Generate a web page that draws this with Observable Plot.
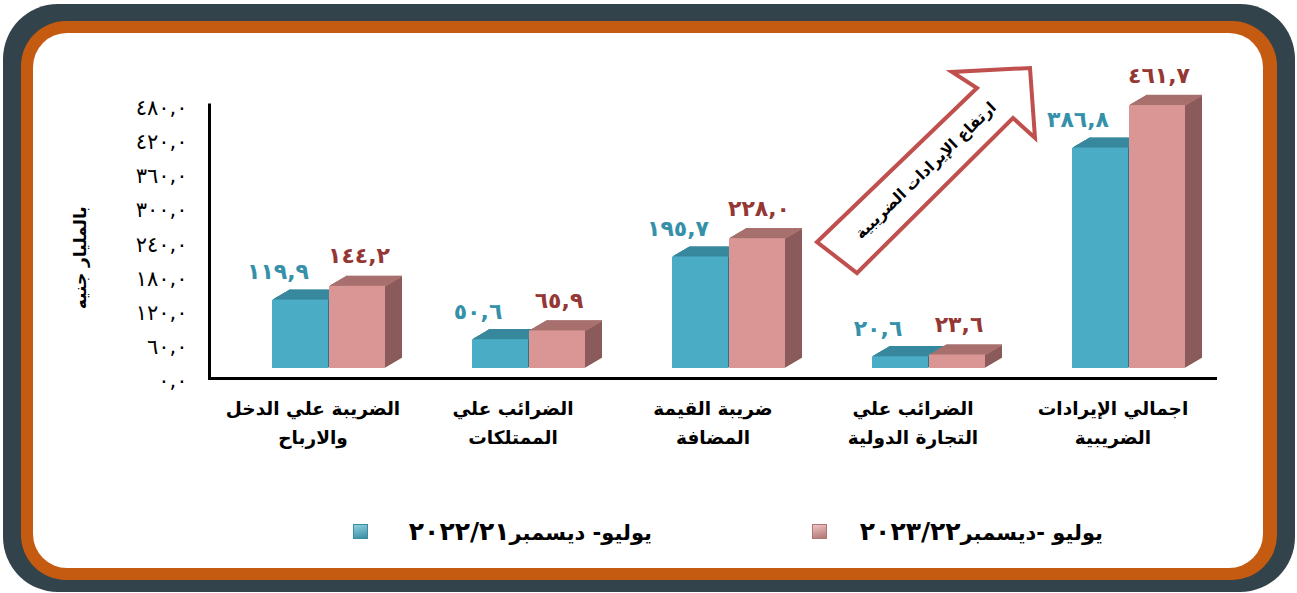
<!DOCTYPE html>
<html><head><meta charset="utf-8">
<script src="https://cdn.jsdelivr.net/npm/d3@7"></script>
<script src="https://cdn.jsdelivr.net/npm/@observablehq/plot@0.6"></script>
<style>
html,body{margin:0;padding:0;background:#fff;}
#wrap{position:relative;width:1297px;height:593px;overflow:hidden;font-family:"DejaVu Sans",sans-serif;}
.f1{position:absolute;left:3px;top:4px;width:1292px;height:588px;border-radius:55px;background:#33434b;}
.f2{position:absolute;left:21px;top:21px;width:1256px;height:559px;border-radius:45px;background:#c55a11;}
.f3{position:absolute;left:33px;top:33px;width:1230px;height:535px;border-radius:34px;background:#fff;}
#chart{position:absolute;left:0;top:0;}
#arrow{position:absolute;left:0;top:0;}
.leg{position:absolute;top:518px;height:28px;line-height:28px;font-weight:bold;font-size:21px;direction:rtl;white-space:nowrap;color:#000;}
.leg .num{font-size:25px;}
.mk{position:absolute;top:524px;width:15px;height:15px;box-sizing:border-box;}
</style></head>
<body>
<div id="wrap">
  <div class="f1"></div><div class="f2"></div><div class="f3"></div>
  <div id="chart"></div>
  <svg id="arrow" width="1297" height="593"></svg>
  <div id="legend"></div>
</div>
<script>
// ---- data ----
const categories = [
  "الضريبة علي الدخل\nوالارباح",
  "الضرائب علي\nالممتلكات",
  "ضريبة القيمة\nالمضافة",
  "الضرائب علي\nالتجارة الدولية",
  "اجمالي الإيرادات\nالضريبية"
];
const seriesNames = ["يوليو- ديسمبر٢٠٢٢/٢١", "يوليو -ديسمبر٢٠٢٣/٢٢"];
const values2122 = [119.9, 50.6, 195.7, 20.6, 386.8];
const values2223 = [144.2, 65.9, 228.0, 23.6, 461.7];
const yTicks = [0, 60, 120, 180, 240, 300, 360, 420, 480];
const yLabel = "بالمليار جنيه";
const arrowText = "ارتفاع الإيرادات الضريبية";

// ---- helpers ----
const arDigits = "٠١٢٣٤٥٦٧٨٩";
const toAr = n => n.toFixed(1).replace(".", ",").replace(/\d/g, d => arDigits[+d]);

const rowsA = categories.map((c, i) => ({category: c, value: values2122[i]}));
const rowsB = categories.map((c, i) => ({category: c, value: values2223[i]}));

const C = {
  tealFront: "#4bacc6", tealTop: "#3a8ca2", tealSide: "#2f7387", tealText: "#3591aa",
  pinkFront: "#d99694", pinkTop: "#ad7472", pinkSide: "#8b5b5b", pinkText: "#953735"
};

const half = 57;       // half of the band (one bar)
const shiftX = 16;     // bars sit right of the label centre
const lift = -10;      // front face floor above axis line
const depthX = 17, depthY = 10;

function bar3d(rows, inset, front, top, side) {
  const ms = [];
  for (let i = depthX; i >= 1; i--) {
    const dx = shiftX + i, dy = lift - i * depthY / depthX;
    ms.push(Plot.barY(rows, {x: "category", y: "value", fill: side, ...inset, dx, dy}));
    ms.push(Plot.tickY(rows, {x: "category", y: "value", stroke: top, strokeWidth: 1.3, ...inset, dx, dy}));
  }
  ms.push(Plot.barY(rows, {x: "category", y: "value", fill: front, ...inset, dx: shiftX, dy: lift}));
  return ms;
}

const plot = Plot.plot({
  width: 1297, height: 470,
  marginLeft: 209, marginRight: 80, marginTop: 104.6, marginBottom: 92,
  style: {background: "transparent", fontFamily: "DejaVu Sans, sans-serif", overflow: "visible"},
  x: {type: "band", domain: categories, paddingInner: 0.433, paddingOuter: 0.224, axis: null},
  y: {domain: [0, 480]},
  marks: [
    ...bar3d(rowsA, {insetRight: half}, C.tealFront, C.tealTop, C.tealSide),
    ...bar3d(rowsB, {insetLeft: half}, C.pinkFront, C.pinkTop, C.pinkSide),
    Plot.ruleY([0], {stroke: "#000", strokeWidth: 3}),
    Plot.frame({anchor: "left", stroke: "#000", strokeWidth: 3}),
    Plot.axisY({ticks: yTicks, tickSize: 0, tickPadding: 22, tickFormat: toAr, fontSize: 21, dy: 3, label: null, fill: "#000"}),
    Plot.text([yLabel], {frameAnchor: "left", textAnchor: "middle", dx: -129, dy: 16, rotate: -90, fontSize: 17, fontWeight: "bold", fill: "#000"}),
    Plot.text(categories, {x: d => d, frameAnchor: "bottom", lineAnchor: "top", dy: 16, text: d => d, fontSize: 18.5, fontWeight: "bold", lineHeight: 1.55, fill: "#000"}),
    Plot.text(rowsA, {x: "category", y: "value", text: d => toAr(d.value), dx: -35, dy: -38, fill: C.tealText, fontSize: 22, fontWeight: "bold"}),
    Plot.text(rowsB, {x: "category", y: "value", text: d => toAr(d.value), dx: 46, dy: -40, fill: C.pinkText, fontSize: 22, fontWeight: "bold"})
  ]
});
document.getElementById("chart").appendChild(plot);

// ---- annotation arrow ----
const svg = d3.select("#arrow");
svg.append("polygon")
  .attr("points", "817,242 977,88 952,72 1030,68 1035,138 1013,118 857,273")
  .attr("fill", "#fff").attr("stroke", "#c0504d").attr("stroke-width", 4).attr("stroke-linejoin", "miter");
svg.append("text")
  .attr("transform", "translate(926,171) rotate(-44)")
  .attr("text-anchor", "middle").attr("dominant-baseline", "middle")
  .attr("font-family", "DejaVu Sans, sans-serif").attr("font-weight", "bold").attr("font-size", 15.5)
  .text(arrowText);

// ---- legend ----
const legend = document.getElementById("legend");
const legItems = [
  {name: seriesNames[0], left: 353, right: 652, c1: "#8fd0e0", c2: "#3a8ca2"},
  {name: seriesNames[1], left: 812, right: 1103, c1: "#f0c4c3", c2: "#b07674"}
];
legItems.forEach(it => {
  const m = document.createElement("div");
  m.className = "mk";
  m.style.left = it.left + "px";
  m.style.background = `linear-gradient(165deg, ${it.c1}, ${it.c2})`;
  m.style.border = `1px solid ${it.c2}`;
  legend.appendChild(m);
  const t = document.createElement("div");
  t.className = "leg";
  t.style.right = (1297 - it.right) + "px";
  const parts = it.name.match(/^(.*?)([٠-٩\/]+)$/);
  const a = document.createElement("span"); a.textContent = parts[1];
  const b = document.createElement("span"); b.className = "num"; b.textContent = parts[2];
  t.appendChild(a); t.appendChild(b);
  legend.appendChild(t);
});
</script>
</body></html>
